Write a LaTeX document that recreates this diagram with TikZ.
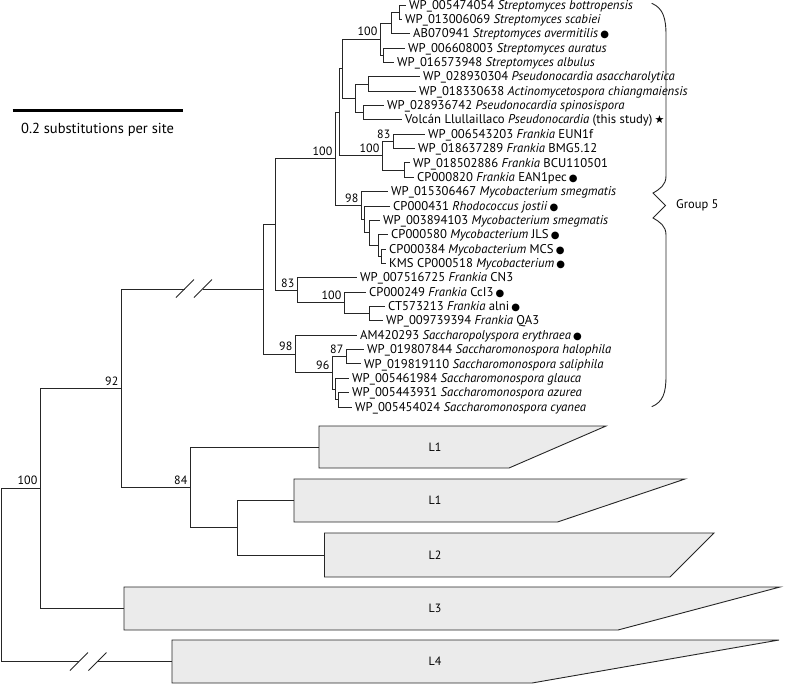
\documentclass[tikz,border=0pt]{standalone}
\usepackage{fontspec}
\setmainfont{PT Sans}
\newfontfamily\symfont{DejaVu Sans}
\newcommand\bul{\,{\symfont\fontsize{10}{10}\selectfont ●}}
\newcommand\starsym{\,{\symfont\fontsize{11}{11}\selectfont ★}}
\newcommand\cladeshape[7]{%
  \draw[clade] (#2,#3) -- (#6,#3) -- (#5,#4) -- (#2,#4) -- cycle;
  \coordinate (#1) at (#2,{(#3+#4)/2});
  \node[cladelab] (#1lab) at (435,{(#3+#4)/2}) {#7};}
\begin{document}
\begin{tikzpicture}[x=1pt,y=-1pt,
  br/.style={line width=0.9pt, draw=black!85},
  leaf/.style={anchor=west, inner xsep=3pt, inner ysep=0pt, text height=9.2pt, text depth=1pt,
    font=\fontsize{12.7}{15}\selectfont},
  bs/.style={anchor=south east, inner sep=0pt, xshift=-2.5pt, yshift=3pt,
    font=\fontsize{12}{14}\selectfont},
  clade/.style={line width=0.9pt, draw=black!85, fill=black!8},
  cladelab/.style={inner sep=0pt, font=\fontsize{12}{14}\selectfont},
  slash/.style={line width=0.9pt, draw=black!85}]
\useasboundingbox (0,0) rectangle (787,686);

% ---------- leaves ----------
\node[leaf] (l1)  at (406,5.5)    {WP\_005474054 \textit{Streptomyces bottropensis}};
\node[leaf] (l2)  at (402,19.36)  {WP\_013006069 \textit{Streptomyces scabiei}};
\node[leaf] (l3)  at (410,33.71)  {AB070941 \textit{Streptomyces avermitilis}\bul};
\node[leaf] (l4)  at (405,48.07)  {WP\_006608003 \textit{Streptomyces auratus}};
\node[leaf] (l5)  at (394,62.43)  {WP\_016573948 \textit{Streptomyces albulus}};
\node[leaf] (l6)  at (420,76.79)  {WP\_028930304 \textit{Pseudonocardia asaccharolytica}};
\node[leaf] (l7)  at (416,91.14)  {WP\_018330638 \textit{Actinomycetospora chiangmaiensis}};
\node[leaf] (l8)  at (384,105.5)  {WP\_028936742 \textit{Pseudonocardia spinosispora}};
\node[leaf] (l9)  at (402,119.86) {Volcán Llullaillaco \textit{Pseudonocardia} (this study)\starsym};
\node[leaf] (l10) at (425,134.21) {WP\_006543203 \textit{Frankia} EUN1f};
\node[leaf] (l11) at (415,148.57) {WP\_018637289 \textit{Frankia} BMG5.12};
\node[leaf] (l12) at (410,162.93) {WP\_018502886 \textit{Frankia} BCU110501};
\node[leaf] (l13) at (414,177.29) {CP000820 \textit{Frankia} EAN1pec\bul};
\node[leaf] (l14) at (388,191.64) {WP\_015306467 \textit{Mycobacterium smegmatis}};
\node[leaf] (l15) at (390,206.0)  {CP000431 \textit{Rhodococcus jostii}\bul};
\node[leaf] (l16) at (380,220.36) {WP\_003894103 \textit{Mycobacterium smegmatis}};
\node[leaf] (l17) at (388,234.71) {CP000580 \textit{Mycobacterium} JLS\bul};
\node[leaf] (l18) at (386,249.07) {CP000384 \textit{Mycobacterium} MCS\bul};
\node[leaf] (l19) at (386,263.43) {KMS CP000518 \textit{Mycobacterium}\bul};
\node[leaf] (l20) at (357,277.79) {WP\_007516725 \textit{Frankia} CN3};
\node[leaf] (l21) at (366,292.14) {CP000249 \textit{Frankia} CcI3\bul};
\node[leaf] (l22) at (385,306.5)  {CT573213 \textit{Frankia} alni\bul};
\node[leaf] (l23) at (383,320.86) {WP\_009739394 \textit{Frankia} QA3};
\node[leaf] (l24) at (357,335.21) {AM420293 \textit{Saccharopolyspora erythraea}\bul};
\node[leaf] (l25) at (364,349.57) {WP\_019807844 \textit{Saccharomonospora halophila}};
\node[leaf] (l26) at (361,363.93) {WP\_019819110 \textit{Saccharomonospora saliphila}};
\node[leaf] (l27) at (349,378.29) {WP\_005461984 \textit{Saccharomonospora glauca}};
\node[leaf] (l28) at (349,392.64) {WP\_005443931 \textit{Saccharomonospora azurea}};
\node[leaf] (l29) at (352,407.0)  {WP\_005454024 \textit{Saccharomonospora cyanea}};

% ---------- internal nodes ----------
\coordinate (Sa)  at (399,12.43);
\coordinate (Sb)  at (391,23.07);
\coordinate (D)   at (383,55.25);
\coordinate (SR)  at (380,39.16);
\coordinate (P1)  at (368,83.97);
\coordinate (P2)  at (363,112.68);
\coordinate (P)   at (355,98.32);
\coordinate (Q1)  at (342,68.74);
\coordinate (F1)  at (393,141.39);
\coordinate (F2)  at (404,170.11);
\coordinate (Fr)  at (382,155.75);
\coordinate (Q2)  at (339,112.25);
\coordinate (M4)  at (381,256.25);
\coordinate (M3)  at (378,245.48);
\coordinate (M2)  at (369,232.92);
\coordinate (M1)  at (364,219.46);
\coordinate (M98) at (361,205.55);
\coordinate (X)   at (335,158.9);
\coordinate (Fa)  at (369,313.68);
\coordinate (F100) at (344,302.91);
\coordinate (F83) at (297,290.35);
\coordinate (H)   at (275,224.62);
\coordinate (S87) at (346,356.75);
\coordinate (S4)  at (338,399.82);
\coordinate (S3)  at (335,389.06);
\coordinate (S96) at (332,372.9);
\coordinate (S98) at (295,354.06);
\coordinate (G)   at (263,289.34);
\coordinate (N92) at (121,388.4);
\coordinate (N84) at (190,487.4);
\coordinate (N2)  at (237,527.75);
\coordinate (N100) at (40,488);
\coordinate (R)   at (1.7,575);

% ---------- collapsed clades ----------
\cladeshape{L1a}{319}{426}{468}{509}{606}{L1}
\cladeshape{L1b}{294}{479}{522}{557.5}{685}{L1}
\cladeshape{L2c}{324.5}{533}{577}{670}{714}{L2}
\cladeshape{L3c}{124}{587}{630}{618}{780}{L3}
\cladeshape{L4c}{172}{640}{683}{532}{779}{L4}

% ---------- branches ----------
\foreach \p/\c in {Sa/l1, Sa/l2, Sb/Sa, Sb/l3, D/l4, D/l5, SR/Sb, SR/D,
  P1/l6, P1/l7, P2/l8, P2/l9, P/P1, P/P2, Q1/SR, Q1/P,
  F1/l10, F1/l11, F2/l12, F2/l13, Fr/F1, Fr/F2, Q2/Q1, Q2/Fr,
  M4/l18, M4/l19, M3/l17, M3/M4, M2/l16, M2/M3, M1/l15, M1/M2, M98/l14, M98/M1,
  X/Q2, X/M98, Fa/l22, Fa/l23, F100/l21, F100/Fa, F83/l20, F83/F100, H/X, H/F83,
  S87/l25, S87/l26, S4/l28, S4/l29, S3/l27, S3/S4, S96/S87, S96/S3, S98/l24, S98/S96,
  G/H, G/S98, N92/N84, N84/L1a, N84/N2, N2/L1b, N2/L2c, N100/N92, N100/L3c, R/N100}
  \draw[br] (\p) |- (\c);

% broken branches
\coordinate (brA1) at (185,289.34);
\coordinate (brA2) at (203,289.34);
\draw[br] (N92) |- (brA1);
\draw[br] (brA2) -- (G);
\draw[slash] (176,297.5) -- (194,279.5);
\draw[slash] (194,297.5) -- (212,279.5);

\coordinate (brB1) at (79,661.5);
\coordinate (brB2) at (97.5,661.5);
\draw[br] (R) |- (brB1);
\draw[br] (brB2) -- (L4c);
\draw[slash] (70,670.5) -- (88,652.5);
\draw[slash] (88.5,670.5) -- (106.5,652.5);

% ---------- bootstrap values ----------
\node[bs] (b1)  at (SR)   {100};
\node[bs] (b2)  at (F1)   {83};
\node[bs] (b3)  at (Fr)   {100};
\node[bs] (b4)  at (X)    {100};
\node[bs] (b5)  at (M98)  {98};
\node[bs] (b6)  at (F83)  {83};
\node[bs] (b7)  at (F100) {100};
\node[bs] (b8)  at (S98)  {98};
\node[bs] (b9)  at (S87)  {87};
\node[bs] (b10) at (S96)  {96};
\node[bs] (b11) at (N92)  {92};
\node[bs] (b12) at (N84)  {84};
\node[bs] (b13) at (N100) {100};

% ---------- brace and group label ----------
\draw[br] (651.7,3.3) .. controls (663,8) and (666,18) .. (666,35)
  -- (666,176) .. controls (666,185) and (660,189) .. (653,193)
  -- (665.5,205.5) -- (653,218)
  .. controls (660,222) and (666,226) .. (666,235)
  -- (666,376) .. controls (666,393) and (663,402) .. (651.7,406.7);
\node[anchor=west, inner sep=0pt, font=\fontsize{12.5}{14}\selectfont] (grp) at (676,205.5) {Group 5};

% ---------- scale bar ----------
\coordinate (sbA) at (12.7,110);
\coordinate (sbB) at (182.7,110);
\draw[line width=3pt] (sbA) -- (sbB);
\node[font=\fontsize{14.5}{16}\selectfont, inner sep=0pt] (sbt) at (97.5,130) {0.2 substitutions per site};
\end{tikzpicture}
\end{document}
